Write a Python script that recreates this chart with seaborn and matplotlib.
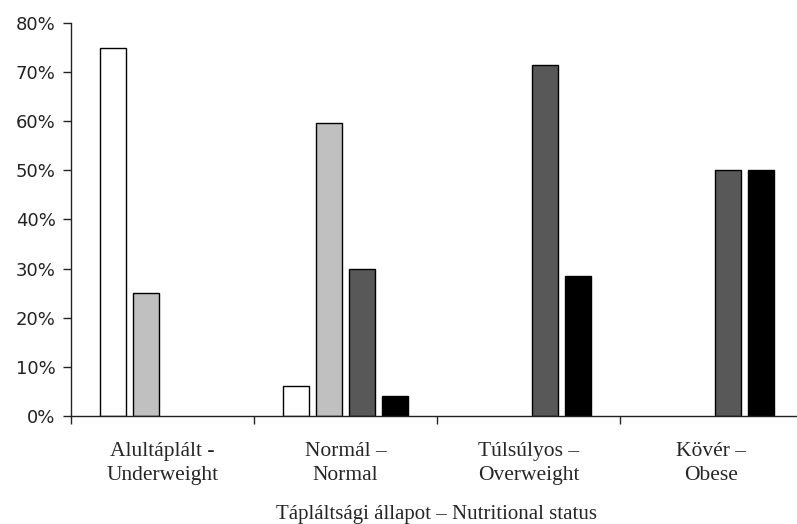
import pandas as pd
import seaborn as sns
import matplotlib.pyplot as plt
from matplotlib.ticker import PercentFormatter

# data (percent)
categories = ["Alultáplált -\nUnderweight", "Normál –\nNormal",
              "Túlsúlyos –\nOverweight", "Kövér –\nObese"]
series = ["1", "2", "3", "4"]
s1 = [75.0, 6.2, 0.0, 0.0]
s2 = [25.0, 59.6, 0.0, 0.0]
s3 = [0.0, 30.0, 71.5, 50.0]
s4 = [0.0, 4.1, 28.5, 50.0]
colors = ["#ffffff", "#c0c0c0", "#585858", "#000000"]

rows = []
for name, vals in zip(series, [s1, s2, s3, s4]):
    for cat, v in zip(categories, vals):
        rows.append({"status": cat, "pct": v, "series": name})
df = pd.DataFrame(rows)

sns.set_style("ticks")
plt.rcParams["font.family"] = ["DejaVu Sans"]

fig = plt.figure(figsize=(7.97, 5.24), dpi=100)
ax = fig.add_axes([71 / 797, 108 / 524, 732 / 797, 393 / 524])

sns.barplot(data=df, x="status", y="pct", hue="series", order=categories,
            hue_order=series, palette=colors, edgecolor="black", linewidth=1,
            width=0.72, gap=0.21, legend=False, ax=ax)
# empty bars are not drawn in the original
for p in ax.patches:
    if p.get_height() == 0:
        p.set_visible(False)

ax.set_xlim(-0.5, 3.5)
ax.set_ylim(0, 80)
ax.set_yticks(range(0, 81, 10))
ax.yaxis.set_major_formatter(PercentFormatter(100, decimals=0))
ax.tick_params(axis="y", labelsize=13, length=6, width=1, pad=5, colors="#222222")

ax.set_xticks([-0.5, 0.5, 1.5, 2.5, 3.5])
ax.set_xticklabels([])
ax.set_xticks(range(len(categories)), minor=True)
ax.set_xticklabels(categories, minor=True, family="Liberation Serif", fontsize=15.5,
                   linespacing=1.35)
ax.tick_params(axis="x", which="major", length=6, width=1)
ax.tick_params(axis="x", which="minor", length=0, pad=19)

ax.set_xlabel("Tápláltsági állapot – Nutritional status", family="Liberation Serif",
              fontsize=15, labelpad=14)
ax.set_ylabel("")
sns.despine(ax=ax)
for sp in ["left", "bottom"]:
    ax.spines[sp].set_linewidth(1)
    ax.spines[sp].set_color("#222222")

fig.savefig("out.png", dpi=100)
